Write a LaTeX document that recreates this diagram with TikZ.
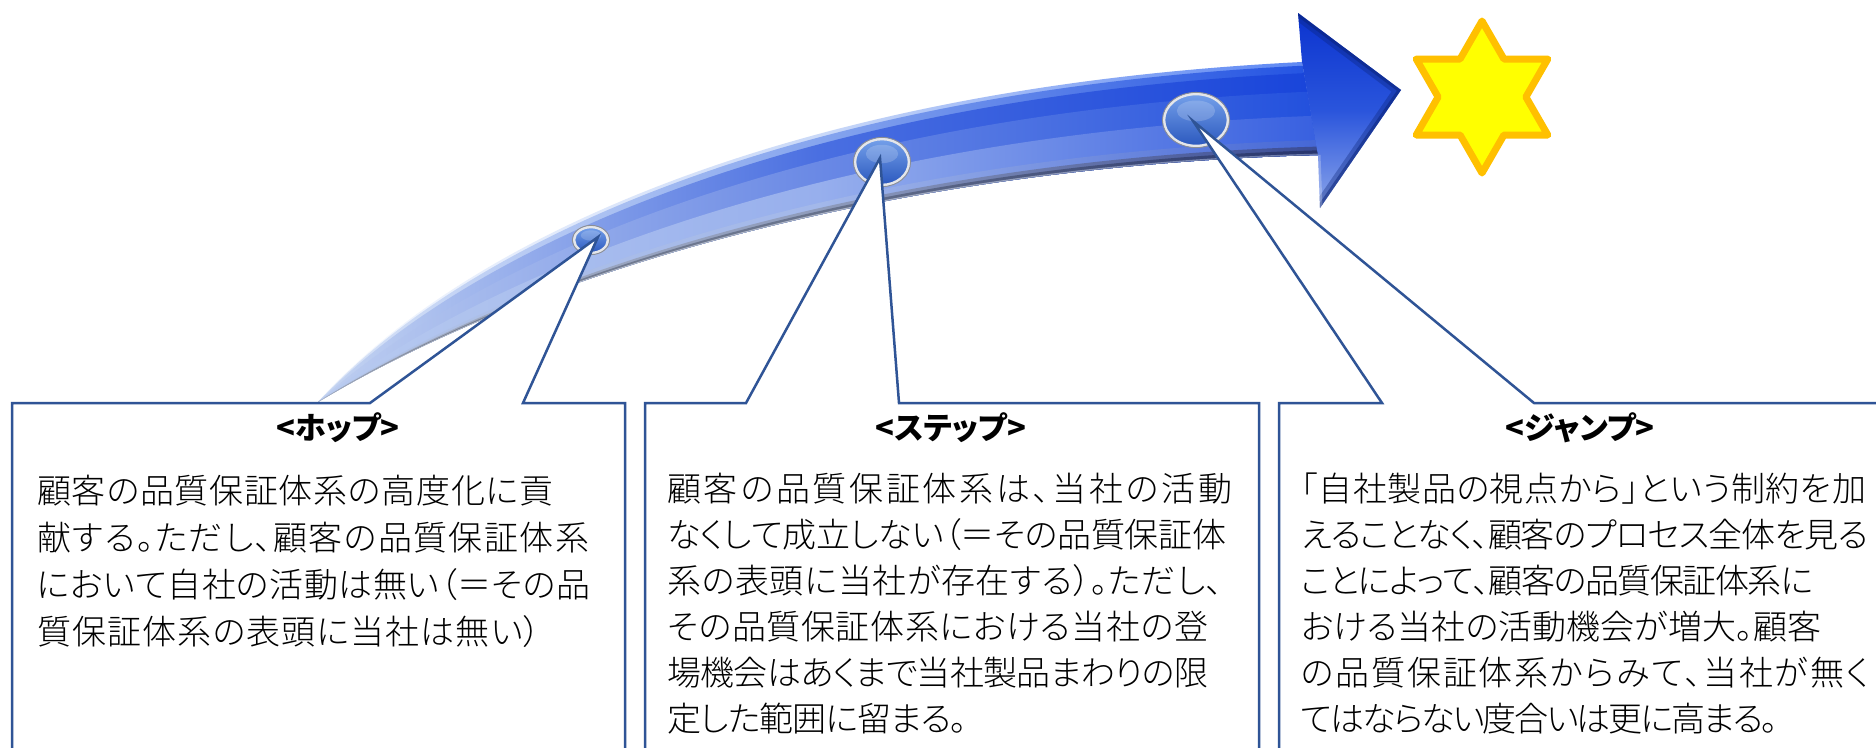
\documentclass[tikz,border=0pt]{standalone}
\usepackage{fontspec}
\IfFontExistsTF{Noto Sans CJK JP Light}
  {\newfontfamily\jpfont[RawFeature=+palt,UprightFont={* Light},BoldFont={Noto Sans CJK JP Bold}]{Noto Sans CJK JP}}
  {\newfontfamily\jpfont[RawFeature=+palt]{Noto Sans CJK JP}}
\newfontfamily\jpheadfont[RawFeature=+palt]{Noto Sans CJK JP}
\usetikzlibrary{calc}

% set a line of Japanese text to a given width: glue between every two characters
\makeatletter
\def\spread@chars#1#2\@nil{#1\ifx\relax#2\relax\else\hskip 0pt plus 1fil minus 2pt\spread@chars#2\@nil\fi}
\newcommand\setline[2]{\hbox to #1pt{\spread@chars#2\@nil}}
\makeatother

\definecolor{calloutline}{HTML}{2F5496}
\definecolor{staryellow}{HTML}{FFFF00}
\definecolor{starorange}{HTML}{FFC000}
\definecolor{headtop}{HTML}{0B33CF}
\definecolor{headmid}{HTML}{2A55DC}
\definecolor{headbot}{HTML}{8CA6EA}
\definecolor{headedge}{HTML}{0A2378}
\definecolor{balltop}{HTML}{74A0EA}
\definecolor{ballbot}{HTML}{2B58BE}
\definecolor{ballring}{HTML}{E4E6EA}
\definecolor{ballrim}{HTML}{8C8F96}

\tikzset{
  callout/.style={draw=calloutline, fill=white, line width=2.5pt, line join=miter},
  bodytext/.style={anchor=base west, inner sep=0pt, font=\jpfont\fontsize{34pt}{40pt}\selectfont},
  titletext/.style={anchor=base, inner sep=0pt, font=\jpheadfont\bfseries\fontsize{31pt}{36pt}\selectfont},
  ballrimline/.style={draw=ballrim, line width=0.9pt},
  ballringline/.style={draw=ballring, line width=2.6pt},
}

\begin{document}
\begin{tikzpicture}[x=1pt,y=-1pt]
\clip (0,0) rectangle (1876,747);
\fill[white] (0,0) rectangle (1876,747);

% ---- curved arrow: shaft edges (upper and lower Bezier curves) ----
\coordinate (S)  at (318,402);
\coordinate (U1) at (458,245);
\coordinate (U2) at (780,88);
\coordinate (UE) at (1302,62);
\coordinate (L1) at (560,257);
\coordinate (L2) at (930,165);
\coordinate (LE) at (1318,155);

% shaft shaded in layers from the upper edge downward
\foreach \f/\cl/\cm/\cr in {
  0/F6F9FE/CAD9F8/5A85F3,
  0.04/DCE6F7/86A5EE/2252E2,
  0.12/C8D7F2/4A6FE1/1844DA,
  0.32/BFCFF0/6A89E5/2250DD,
  0.58/B9CBEF/97AFED/3860E0,
  0.84/B2C3E6/A3B8EA/4567D6,
  0.91/A6B0C4/8F9CBC/3A4C96,
  0.95/7F8798/67728C/27356E,
  0.985/C4CAD6/AEB6C8/6878AA} {
  \definecolor{cl}{HTML}{\cl}
  \definecolor{cm}{HTML}{\cm}
  \definecolor{cr}{HTML}{\cr}
  \shade[left color=cl, right color=cr, middle color=cm]
    (S) .. controls ($(U1)!\f!(L1)$) and ($(U2)!\f!(L2)$) .. ($(UE)!\f!(LE)$)
    -- (LE) .. controls (L2) and (L1) .. (S) -- cycle;
}

% arrow head
\coordinate (HB1) at (1302,62);
\coordinate (HT)  at (1298,13);
\coordinate (HP)  at (1401,90);
\coordinate (HL)  at (1320,208);
\coordinate (HB2) at (1318,155);
\shade[top color=headtop, bottom color=headbot, middle color=headmid]
  (HB1) -- (HT) -- (HP) -- (HL) -- (HB2) -- cycle;
\begin{scope}
  \clip (HB1) -- (HT) -- (HP) -- (HL) -- (HB2) -- cycle;
  \draw[headedge, line width=14pt, opacity=0.35] (HT) -- (HP) -- (HL);
  \draw[headedge, line width=6pt, opacity=0.5] (HT) -- (HP) -- (HL);
  \draw[white, line width=5pt, opacity=0.25] (HB2) -- (HL);
\end{scope}

% ---- stage markers on the shaft ----
\coordinate (hopc)  at (591,240);
\coordinate (stepc) at (882,162);
\coordinate (jumpc) at (1196,120);
\foreach \c/\rx/\ry in {hopc/17/13, stepc/27/23, jumpc/32/26} {
  \shade[top color=balltop, bottom color=ballbot] (\c) ellipse [x radius=\rx, y radius=\ry];
  \fill[white, opacity=0.18] ($(\c)+(0,-0.35*\ry)$) ellipse [x radius=0.6*\rx, y radius=0.4*\ry];
  \draw[ballringline] (\c) ellipse [x radius=\rx, y radius=\ry];
  \draw[ballrimline] (\c) ellipse [x radius=\rx+1.6, y radius=\ry+1.6];
}

% ---- goal star ----
\coordinate (starc) at (1482,97);
\filldraw[fill=staryellow, draw=starorange, line width=7pt, line join=round]
  (1482,21) -- (1503.9,59) -- (1547.8,59) -- (1525.9,97) -- (1547.8,135)
  -- (1503.9,135) -- (1482,173) -- (1460.1,135) -- (1416.2,135)
  -- (1438.1,97) -- (1416.2,59) -- (1460.1,59) -- cycle;

% ---- callout boxes with pointers to the markers ----
\coordinate (hoptip)  at (598,237);
\coordinate (steptip) at (880,158);
\coordinate (jumptip) at (1193,121);

\path[callout] (12,760) -- (12,403) -- (370,403) -- (hoptip) -- (523,403)
  -- (625,403) -- (625,760) -- cycle;
\path[callout] (645,760) -- (645,403) -- (746,403) -- (steptip) -- (899,403)
  -- (1259,403) -- (1259,760) -- cycle;
\path[callout] (1279,760) -- (1279,403) -- (1382,403) -- (jumptip) -- (1534,403)
  -- (1900,403) -- (1900,760) -- cycle;

% ---- titles ----
\node[titletext] (hop-title)  at (338,439)  {<ホップ>};
\node[titletext] (step-title) at (951,439)  {<ステップ>};
\node[titletext] (jump-title) at (1580,439) {<ジャンプ>};

% ---- body texts (line / width) ----
\foreach \t/\w [count=\i] in {顧客の品質保証体系の高度化に貢/516,献する。ただし、顧客の品質保証体系/552,において自社の活動は無い（＝その品/553,質保証体系の表頭に当社は無い）/504}
  \node[bodytext] (hop-\i) at (37,{503+47*(\i-1)}) {\expandafter\setline\expandafter{\expandafter\w\expandafter}\expandafter{\t}};

\foreach \t/\w [count=\i] in {顧客の品質保証体系は、当社の活動/565,なくして成立しない（＝その品質保証体/559,系の表頭に当社が存在する）。ただし、/556,その品質保証体系における当社の登/541,場機会はあくまで当社製品まわりの限/541,定した範囲に留まる。/300}
  \node[bodytext] (step-\i) at (667,{501+46*(\i-1)}) {\expandafter\setline\expandafter{\expandafter\w\expandafter}\expandafter{\t}};

\foreach \t/\w [count=\i] in {「自社製品の視点から」という制約を加/565,えることなく、顧客のプロセス全体を見る/567,ことによって、顧客の品質保証体系に/512,おける当社の活動機会が増大。顧客/520,の品質保証体系からみて、当社が無く/568,てはならない度合いは更に高まる。/467}
  \node[bodytext] (jump-\i) at (1301,{501+46*(\i-1)}) {\expandafter\setline\expandafter{\expandafter\w\expandafter}\expandafter{\t}};
\end{tikzpicture}
\end{document}
